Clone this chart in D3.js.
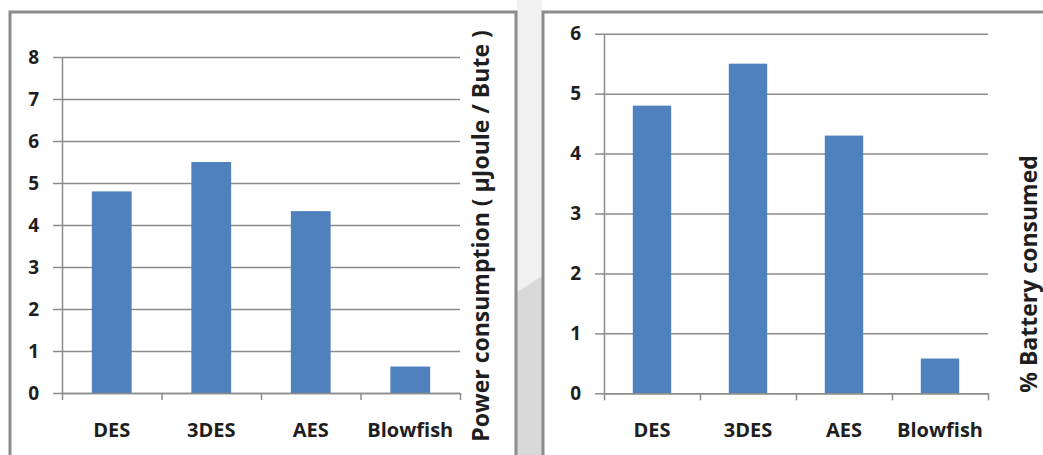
<!DOCTYPE html>
<html>
<head>
<meta charset="utf-8">
<script src="https://cdn.jsdelivr.net/npm/d3@7/dist/d3.min.js"></script>
<style>
  html, body { margin: 0; padding: 0; background: #ffffff; }
  svg { display: block; }
  text { font-family: "Open Sans", "Liberation Sans", sans-serif; font-weight: 700; fill: #1e1e1e; }
</style>
</head>
<body>
<svg id="chart" width="1043" height="455"></svg>
<script>
// Cipher algorithms compared in both charts
const categories = ["DES", "3DES", "AES", "Blowfish"];

// Power consumption (µJoule / Byte) per algorithm
const powerValues = [4.8, 5.5, 4.33, 0.63];
const powerTicks = [0, 1, 2, 3, 4, 5, 6, 7, 8];

// Battery consumed (%) per algorithm
const batteryValues = [4.8, 5.5, 4.3, 0.58];
const batteryTicks = [0, 1, 2, 3, 4, 5, 6];

const svg = d3.select("#chart");
const BAR = "#4f81bd";
const LINE = "#8c8c8c";

// Gray strip between the two panels
svg.append("rect").attr("x", 517).attr("y", 0).attr("width", 25).attr("height", 455).attr("fill", "#f1f1f1");
svg.append("path")
  .attr("d", d3.line()([[517, 292], [542, 276], [542, 455], [517, 455]]))
  .attr("fill", "#d9d9d9");

function drawPanel(opts) {
  const { frame, left, right, top, bottom, values, ticks, yMax, title, titleX, titleY, titleSize } = opts;

  // panel frame (open at the bottom edge)
  svg.append("rect")
    .attr("x", frame[0]).attr("y", frame[1])
    .attr("width", frame[2]).attr("height", frame[3])
    .attr("fill", "#ffffff")
    .attr("stroke", LINE).attr("stroke-width", 3);

  const x = d3.scaleBand().domain(categories).range([left, right])
    .paddingInner(0.6).paddingOuter(0.3);
  const y = d3.scaleLinear().domain([0, yMax]).range([bottom, top]);
  const edges = d3.scaleLinear().domain([0, categories.length]).range([left, right]);

  // horizontal grid lines
  svg.append("g")
    .attr("transform", `translate(${left},0)`)
    .call(d3.axisRight(y).tickValues(ticks).tickSize(right - left).tickFormat(""))
    .call(g => g.select(".domain").remove())
    .call(g => g.selectAll("line").attr("stroke", LINE).attr("stroke-width", 1.5));

  // bars
  svg.append("g").selectAll("rect")
    .data(values)
    .join("rect")
    .attr("x", (d, i) => x(categories[i]))
    .attr("y", d => y(d))
    .attr("width", x.bandwidth())
    .attr("height", d => y(0) - y(d))
    .attr("fill", BAR);

  // value axis
  svg.append("g")
    .attr("transform", `translate(${left},0)`)
    .call(d3.axisLeft(y).tickValues(ticks).tickSize(9).tickSizeOuter(0).tickPadding(14).tickFormat(d3.format("d")))
    .call(g => g.selectAll("line, .domain").attr("stroke", LINE).attr("stroke-width", 1.5))
    .call(g => g.selectAll("text").attr("font-size", 19).attr("font-family", null).attr("fill", null));

  // category axis: tick marks at category boundaries
  svg.append("g")
    .attr("transform", `translate(0,${bottom})`)
    .call(d3.axisBottom(edges).ticks(categories.length).tickSize(7).tickSizeOuter(0).tickFormat(""))
    .call(g => g.selectAll("line, .domain").attr("stroke", LINE).attr("stroke-width", 1.5));

  // category labels
  svg.append("g")
    .attr("transform", `translate(0,${bottom})`)
    .call(d3.axisBottom(x).tickSize(0).tickPadding(30))
    .call(g => g.select(".domain").remove())
    .call(g => g.selectAll("text").attr("font-size", 20).attr("font-family", null).attr("fill", null));

  // rotated axis title on the right side
  svg.append("text")
    .attr("transform", `translate(${titleX},${titleY}) rotate(-90)`)
    .attr("text-anchor", "middle")
    .attr("font-size", titleSize)
    .text(title);
}

drawPanel({
  frame: [10, 12, 506, 460],
  left: 62, right: 460, top: 57, bottom: 393,
  values: powerValues, ticks: powerTicks, yMax: 8,
  title: "Power consumption (  µJoule / Bute )", titleX: 489, titleY: 236, titleSize: 23
});

drawPanel({
  frame: [543, 12, 520, 460],
  left: 604, right: 988, top: 33.7, bottom: 393.3,
  values: batteryValues, ticks: batteryTicks, yMax: 6,
  title: "% Battery consumed", titleX: 1037, titleY: 274, titleSize: 23
});
</script>
</body>
</html>
